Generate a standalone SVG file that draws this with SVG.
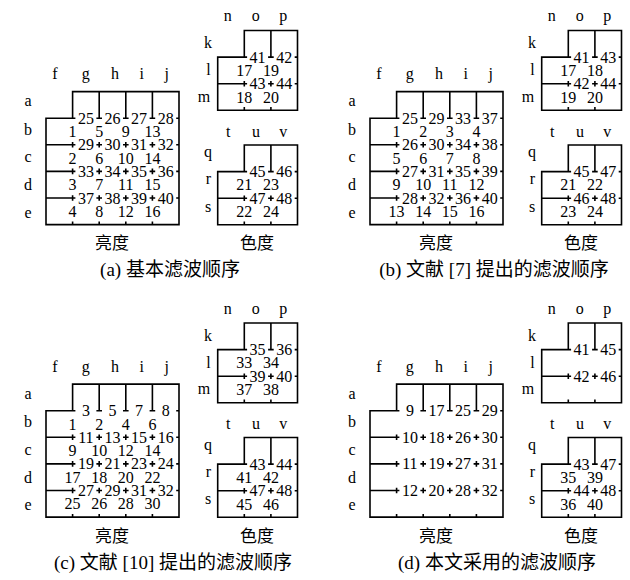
<svg xmlns="http://www.w3.org/2000/svg" xmlns:xlink="http://www.w3.org/1999/xlink" width="630" height="580" viewBox="0 0 630 580">
<style>
.ln{fill:none;stroke:#000;stroke-width:1.6;stroke-linecap:butt}
text{font-family:"Liberation Serif","Noto Sans CJK SC",serif;font-size:16px;fill:#000;text-anchor:middle}
.cap{font-size:17px}
.fig{font-size:19px}
</style>
<rect width="630" height="580" fill="#fff"/>
<defs>
<g id="lumaGrid">
<path class="ln" d="M72.6,91.6H179V224.6H46V118.2H72.6Z M99.2,91.6V118.2 M125.8,91.6V118.2 M152.4,91.6V118.2 M72.6,118.2H75.4 M96.4,118.2H102 M123,118.2H128.6 M149.6,118.2H155.2 M46,144.8H75.4 M46,171.4H75.4 M46,198H75.4 M96.4,144.8H102 M123,144.8H128.6 M149.6,144.8H155.2 M96.4,171.4H102 M123,171.4H128.6 M149.6,171.4H155.2 M96.4,198H102 M123,198H128.6 M149.6,198H155.2 M72.6,142V147.6 M99.2,142V147.6 M125.8,142V147.6 M152.4,142V147.6 M72.6,168.6V174.2 M99.2,168.6V174.2 M125.8,168.6V174.2 M152.4,168.6V174.2 M72.6,195.2V200.8 M99.2,195.2V200.8 M125.8,195.2V200.8 M152.4,195.2V200.8 M176.2,118.2H179 M176.2,144.8H179 M176.2,171.4H179 M176.2,198H179 M72.6,224.6V221.4 M99.2,224.6V221.4 M125.8,224.6V221.4 M152.4,224.6V221.4"/>
</g>
<g id="chromaGrid">
<path class="ln" d="M244.3,30.5H297.5V110.3H217.7V57.1H244.3Z M270.9,30.5V57.1 M244.3,57.1H247.1 M268.1,57.1H273.7 M217.7,83.7H247.1 M268.1,83.7H273.7 M244.3,80.9V86.5 M270.9,80.9V86.5 M294.7,57.1H297.5 M294.7,83.7H297.5 M244.3,110.3V107.1 M270.9,110.3V107.1"/>
</g>
<g id="labels">
<text x="55" y="79">f</text><text x="85.7" y="79">g</text><text x="115" y="79">h</text><text x="141.7" y="79">i</text><text x="166.7" y="79">j</text>
<text x="28" y="106">a</text><text x="28" y="134.5">b</text><text x="28" y="162">c</text><text x="28" y="190">d</text><text x="28" y="217.7">e</text>
<text x="227.7" y="21">n</text><text x="255.7" y="21">o</text><text x="283.3" y="21">p</text>
<text x="208" y="48.3">k</text><text x="208.5" y="75">l</text><text x="204" y="101.7">m</text>
<text x="228.3" y="136.7">t</text><text x="256" y="136.7">u</text><text x="283.3" y="136.7">v</text>
<text x="208" y="157">q</text><text x="208.5" y="184">r</text><text x="208" y="211.7">s</text>
<text class="cap" x="112" y="249">亮度</text><text class="cap" x="257" y="249">色度</text>
</g>
</defs>

<g id="panel-a">
<use xlink:href="#lumaGrid"/><use xlink:href="#chromaGrid"/><use xlink:href="#chromaGrid" transform="translate(0,114.5)"/><use xlink:href="#labels"/>
<g id="a-luma">
<text x="85.9" y="123.7">25</text><text x="112.5" y="123.7">26</text><text x="139.1" y="123.7">27</text><text x="165.7" y="123.7">28</text>
<text x="85.9" y="150.3">29</text><text x="112.5" y="150.3">30</text><text x="139.1" y="150.3">31</text><text x="165.7" y="150.3">32</text>
<text x="85.9" y="176.9">33</text><text x="112.5" y="176.9">34</text><text x="139.1" y="176.9">35</text><text x="165.7" y="176.9">36</text>
<text x="85.9" y="203.5">37</text><text x="112.5" y="203.5">38</text><text x="139.1" y="203.5">39</text><text x="165.7" y="203.5">40</text>
<text x="72.6" y="137">1</text><text x="99.2" y="137">5</text><text x="125.8" y="137">9</text><text x="152.4" y="137">13</text>
<text x="72.6" y="163.6">2</text><text x="99.2" y="163.6">6</text><text x="125.8" y="163.6">10</text><text x="152.4" y="163.6">14</text>
<text x="72.6" y="190.2">3</text><text x="99.2" y="190.2">7</text><text x="125.8" y="190.2">11</text><text x="152.4" y="190.2">15</text>
<text x="72.6" y="216.8">4</text><text x="99.2" y="216.8">8</text><text x="125.8" y="216.8">12</text><text x="152.4" y="216.8">16</text>
</g>
<g id="a-chroma">
<text x="257.6" y="62.6">41</text><text x="284.2" y="62.6">42</text><text x="257.6" y="89.2">43</text><text x="284.2" y="89.2">44</text>
<text x="244.3" y="75.9">17</text><text x="270.9" y="75.9">19</text><text x="244.3" y="102.5">18</text><text x="270.9" y="102.5">20</text>
<text x="257.6" y="177.1">45</text><text x="284.2" y="177.1">46</text><text x="257.6" y="203.7">47</text><text x="284.2" y="203.7">48</text>
<text x="244.3" y="190.4">21</text><text x="270.9" y="190.4">23</text><text x="244.3" y="217">22</text><text x="270.9" y="217">24</text>
</g>
<text class="fig" x="170" y="276">(a) 基本滤波顺序</text>
</g>

<g id="panel-b" transform="translate(324,0)">
<use xlink:href="#lumaGrid"/><use xlink:href="#chromaGrid"/><use xlink:href="#chromaGrid" transform="translate(0,114.5)"/><use xlink:href="#labels"/>
<g id="b-luma">
<text x="85.9" y="123.7">25</text><text x="112.5" y="123.7">29</text><text x="139.1" y="123.7">33</text><text x="165.7" y="123.7">37</text>
<text x="85.9" y="150.3">26</text><text x="112.5" y="150.3">30</text><text x="139.1" y="150.3">34</text><text x="165.7" y="150.3">38</text>
<text x="85.9" y="176.9">27</text><text x="112.5" y="176.9">31</text><text x="139.1" y="176.9">35</text><text x="165.7" y="176.9">39</text>
<text x="85.9" y="203.5">28</text><text x="112.5" y="203.5">32</text><text x="139.1" y="203.5">36</text><text x="165.7" y="203.5">40</text>
<text x="72.6" y="137">1</text><text x="99.2" y="137">2</text><text x="125.8" y="137">3</text><text x="152.4" y="137">4</text>
<text x="72.6" y="163.6">5</text><text x="99.2" y="163.6">6</text><text x="125.8" y="163.6">7</text><text x="152.4" y="163.6">8</text>
<text x="72.6" y="190.2">9</text><text x="99.2" y="190.2">10</text><text x="125.8" y="190.2">11</text><text x="152.4" y="190.2">12</text>
<text x="72.6" y="216.8">13</text><text x="99.2" y="216.8">14</text><text x="125.8" y="216.8">15</text><text x="152.4" y="216.8">16</text>
</g>
<g id="b-chroma">
<text x="257.6" y="62.6">41</text><text x="284.2" y="62.6">43</text><text x="257.6" y="89.2">42</text><text x="284.2" y="89.2">44</text>
<text x="244.3" y="75.9">17</text><text x="270.9" y="75.9">18</text><text x="244.3" y="102.5">19</text><text x="270.9" y="102.5">20</text>
<text x="257.6" y="177.1">45</text><text x="284.2" y="177.1">47</text><text x="257.6" y="203.7">46</text><text x="284.2" y="203.7">48</text>
<text x="244.3" y="190.4">21</text><text x="270.9" y="190.4">22</text><text x="244.3" y="217">23</text><text x="270.9" y="217">24</text>
</g>
<text class="fig" x="170" y="276">(b) 文献 [7] 提出的滤波顺序</text>
</g>

<g id="panel-c" transform="translate(0,292.5)">
<use xlink:href="#lumaGrid"/><use xlink:href="#chromaGrid"/><use xlink:href="#chromaGrid" transform="translate(0,114.5)"/><use xlink:href="#labels"/>
<g id="c-luma">
<text x="85.9" y="123.7">3</text><text x="112.5" y="123.7">5</text><text x="139.1" y="123.7">7</text><text x="165.7" y="123.7">8</text>
<text x="85.9" y="150.3">11</text><text x="112.5" y="150.3">13</text><text x="139.1" y="150.3">15</text><text x="165.7" y="150.3">16</text>
<text x="85.9" y="176.9">19</text><text x="112.5" y="176.9">21</text><text x="139.1" y="176.9">23</text><text x="165.7" y="176.9">24</text>
<text x="85.9" y="203.5">27</text><text x="112.5" y="203.5">29</text><text x="139.1" y="203.5">31</text><text x="165.7" y="203.5">32</text>
<text x="72.6" y="137">1</text><text x="99.2" y="137">2</text><text x="125.8" y="137">4</text><text x="152.4" y="137">6</text>
<text x="72.6" y="163.6">9</text><text x="99.2" y="163.6">10</text><text x="125.8" y="163.6">12</text><text x="152.4" y="163.6">14</text>
<text x="72.6" y="190.2">17</text><text x="99.2" y="190.2">18</text><text x="125.8" y="190.2">20</text><text x="152.4" y="190.2">22</text>
<text x="72.6" y="216.8">25</text><text x="99.2" y="216.8">26</text><text x="125.8" y="216.8">28</text><text x="152.4" y="216.8">30</text>
</g>
<g id="c-chroma">
<text x="257.6" y="62.6">35</text><text x="284.2" y="62.6">36</text><text x="257.6" y="89.2">39</text><text x="284.2" y="89.2">40</text>
<text x="244.3" y="75.9">33</text><text x="270.9" y="75.9">34</text><text x="244.3" y="102.5">37</text><text x="270.9" y="102.5">38</text>
<text x="257.6" y="177.1">43</text><text x="284.2" y="177.1">44</text><text x="257.6" y="203.7">47</text><text x="284.2" y="203.7">48</text>
<text x="244.3" y="190.4">41</text><text x="270.9" y="190.4">42</text><text x="244.3" y="217">45</text><text x="270.9" y="217">46</text>
</g>
<text class="fig" x="173" y="276">(c) 文献 [10] 提出的滤波顺序</text>
</g>

<g id="panel-d" transform="translate(324,292.5)">
<use xlink:href="#lumaGrid"/><use xlink:href="#chromaGrid"/><use xlink:href="#chromaGrid" transform="translate(0,114.5)"/><use xlink:href="#labels"/>
<g id="d-luma">
<text x="85.9" y="123.7">9</text><text x="112.5" y="123.7">17</text><text x="139.1" y="123.7">25</text><text x="165.7" y="123.7">29</text>
<text x="85.9" y="150.3">10</text><text x="112.5" y="150.3">18</text><text x="139.1" y="150.3">26</text><text x="165.7" y="150.3">30</text>
<text x="85.9" y="176.9">11</text><text x="112.5" y="176.9">19</text><text x="139.1" y="176.9">27</text><text x="165.7" y="176.9">31</text>
<text x="85.9" y="203.5">12</text><text x="112.5" y="203.5">20</text><text x="139.1" y="203.5">28</text><text x="165.7" y="203.5">32</text>
</g>
<g id="d-chroma">
<text x="257.6" y="62.6">41</text><text x="284.2" y="62.6">45</text><text x="257.6" y="89.2">42</text><text x="284.2" y="89.2">46</text>
<text x="257.6" y="177.1">43</text><text x="284.2" y="177.1">47</text><text x="257.6" y="203.7">44</text><text x="284.2" y="203.7">48</text>
<text x="244.3" y="190.4">35</text><text x="270.9" y="190.4">39</text><text x="244.3" y="217">36</text><text x="270.9" y="217">40</text>
</g>
<text class="fig" x="173" y="276">(d) 本文采用的滤波顺序</text>
</g>
</svg>
